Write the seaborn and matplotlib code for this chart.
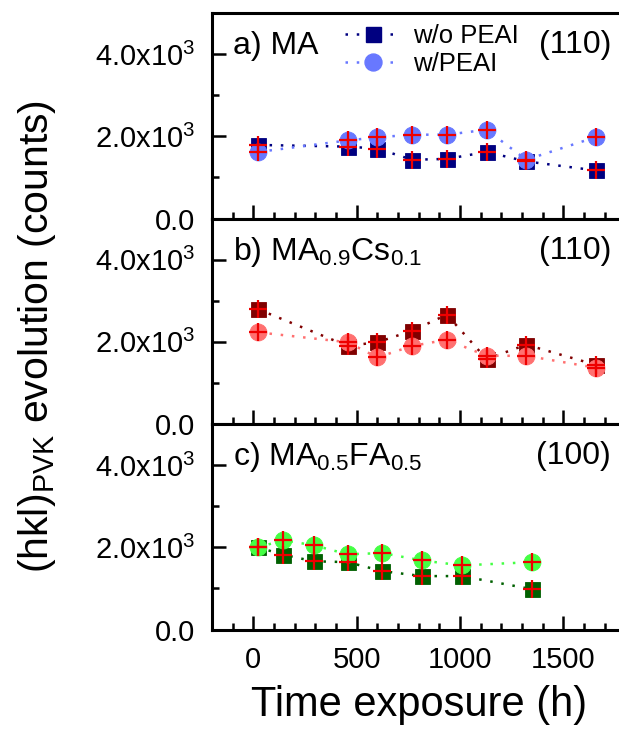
import matplotlib
matplotlib.use("Agg")
import matplotlib.pyplot as plt
from matplotlib.lines import Line2D
from matplotlib.ticker import FuncFormatter, MultipleLocator
import numpy as np
import pandas as pd
import seaborn as sns

# ---- data -------------------------------------------------------------
hours_ab = [24, 456, 600, 768, 936, 1128, 1320, 1656]
hours_c = [21, 145, 292, 456, 624, 816, 1008, 1350]

ma_wo = [1790, 1750, 1700, 1430, 1450, 1620, 1390, 1170]
ma_w = [1620, 1900, 1975, 2040, 2040, 2160, 1430, 1980]

macs_wo = [2790, 1900, 1990, 2270, 2660, 1580, 1930, 1440]
macs_w = [2230, 1990, 1620, 1900, 2050, 1660, 1660, 1370]

mafa_wo = [2000, 1820, 1660, 1640, 1420, 1300, 1300, 980]
mafa_w = [2000, 2170, 2050, 1830, 1860, 1680, 1560, 1640]

panel_titles = ["a) MA", "b) MA$_{0.9}$Cs$_{0.1}$", "c) MA$_{0.5}$FA$_{0.5}$"]
panel_planes = ["(110)", "(110)", "(100)"]
series_labels = ["w/o PEAI", "w/PEAI"]

x_ticks = [0, 500, 1000, 1500]
y_ticks = [0, 2000, 4000]

# ---- style ------------------------------------------------------------
sns.set_theme(style="ticks")
plt.rcParams["font.family"] = ["Liberation Sans", "DejaVu Sans"]
plt.rcParams["mathtext.fontset"] = "custom"
plt.rcParams["mathtext.rm"] = "Liberation Sans"
plt.rcParams["mathtext.it"] = "Liberation Sans:italic"
plt.rcParams["mathtext.default"] = "regular"
for key in ["text.color", "axes.labelcolor", "xtick.color", "ytick.color",
            "axes.edgecolor"]:
    plt.rcParams[key] = "black"

panels = [
    (hours_ab, ma_wo, ma_w, "#000080", "#6878ff"),
    (hours_ab, macs_wo, macs_w, "#800000", "#ff7070"),
    (hours_c, mafa_wo, mafa_w, "#006000", "#44ff44"),
]

fig = plt.figure(figsize=(6.19, 7.4), dpi=100)
left, width = 0.3425, 0.668
h = 0.2777
bottoms = [0.1493 + 2 * h, 0.1493 + h, 0.1493]
dots = (0, (1, 3.5))


def ytick_fmt(v, pos):
    if v == 0:
        return "0.0"
    return "%.1fx10$^{3}$" % (v / 1000.0)


axes = []
for i, (xs, wo, w, c_sq, c_ci) in enumerate(panels):
    ax = fig.add_axes([left, bottoms[i], width, h])
    axes.append(ax)
    df = pd.DataFrame({
        "t": xs + xs,
        "v": wo + w,
        "s": [series_labels[0]] * len(xs) + [series_labels[1]] * len(xs),
    })
    d_wo = df[df.s == series_labels[0]]
    d_w = df[df.s == series_labels[1]]

    sns.lineplot(data=d_wo, x="t", y="v", ax=ax, sort=False, color=c_sq,
                 linestyle=dots, linewidth=1.8, marker="s",
                 markersize=10.8, markeredgecolor=c_sq, markeredgewidth=0.6,
                 zorder=2)
    sns.lineplot(data=d_w, x="t", y="v", ax=ax, sort=False, color=c_ci,
                 linestyle=dots, linewidth=1.8, marker="o",
                 markersize=12.2, markeredgecolor=c_ci, markeredgewidth=0.6,
                 zorder=3)
    sns.scatterplot(data=df, x="t", y="v", ax=ax, marker="+", color="#ee0000",
                    s=150, linewidth=1.6, zorder=4, legend=False)

    ax.set_xlim(-200, 1800)
    ax.set_ylim(0, 5000)
    ax.set_xticks(x_ticks)
    ax.xaxis.set_minor_locator(MultipleLocator(100))
    ax.set_yticks(y_ticks)
    ax.yaxis.set_minor_locator(MultipleLocator(1000))
    ax.yaxis.set_major_formatter(FuncFormatter(ytick_fmt))
    ax.tick_params(axis="both", which="both", direction="in", width=1.8,
                   top=False, right=False, color="black")
    ax.tick_params(axis="both", which="major", length=10)
    ax.tick_params(axis="both", which="minor", length=5)
    ax.tick_params(axis="y", labelsize=21, pad=12)
    ax.tick_params(axis="x", labelsize=21, pad=12)
    for sp in ax.spines.values():
        sp.set_linewidth(2.2)
        sp.set_color("black")
    ax.set_xlabel("")
    ax.set_ylabel("")
    if i < 2:
        ax.tick_params(axis="x", labelbottom=False)
    ax.text(0.051, 0.80, panel_titles[i], transform=ax.transAxes,
            fontsize=23, ha="left", va="baseline")
    ax.text(0.965, 0.805, panel_planes[i], transform=ax.transAxes,
            fontsize=23, ha="right", va="baseline")

    if i == 0:
        handles = [
            Line2D([], [], color=c_sq, linestyle=dots, linewidth=1.8,
                   marker="s", markersize=10.8, markeredgecolor=c_sq),
            Line2D([], [], color=c_ci, linestyle=dots, linewidth=1.8,
                   marker="o", markersize=12.2, markeredgecolor=c_ci),
        ]
        ax.legend(handles, series_labels, loc="upper left",
                  bbox_to_anchor=(0.321, 0.945), frameon=False, fontsize=18.5,
                  handlelength=2.2, handletextpad=0.45, labelspacing=0.15,
                  borderpad=0, borderaxespad=0)

axes[2].set_xlabel("Time exposure (h)", fontsize=30, labelpad=8)
fig.text(37 / 619, 0.545, "(hkl)$_{PVK}$ evolution (counts)", rotation=90,
         fontsize=29.5, ha="center", va="center")

fig.savefig("out.png", dpi=100)
